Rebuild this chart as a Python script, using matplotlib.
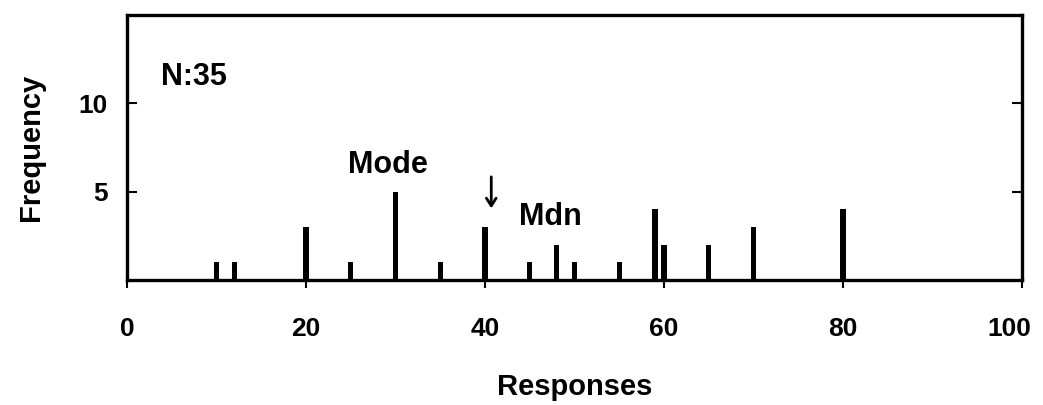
import matplotlib
matplotlib.use("Agg")
import matplotlib.pyplot as plt
from matplotlib.transforms import ScaledTranslation

responses = [10, 12, 20, 25, 30, 35, 40, 45, 48, 50, 55, 59, 60, 65, 70, 80]
frequency = [1, 1, 3, 1, 5, 1, 3, 1, 2, 1, 1, 4, 2, 2, 3, 4]
x_ticks = [0, 20, 40, 60, 80, 100]
y_ticks = [5, 10]

plt.rcParams['font.family'] = ['Liberation Sans', 'DejaVu Sans']
plt.rcParams['font.weight'] = 'bold'

fig = plt.figure(figsize=(10.43, 4.05), dpi=100)
ax = fig.add_axes([0.1218, 0.3086, 0.858, 0.654])

ax.bar(responses, frequency, width=0.6, color='black', zorder=3)

ax.set_xlim(0, 100)
ax.set_ylim(0, 15)
ax.set_xticks(x_ticks)
ax.set_yticks(y_ticks)
ax.tick_params(axis='x', direction='out', length=6, width=1.5, pad=20.5, labelsize=19)
ax.tick_params(axis='y', direction='in', length=7, width=1.5, pad=14, labelsize=19,
               left=True, right=True)
for lbl in ax.get_xticklabels() + ax.get_yticklabels():
    lbl.set_fontweight('bold')
last = ax.get_xticklabels()[-1]
last.set_transform(last.get_transform() + ScaledTranslation(-0.13, 0, fig.dpi_scale_trans))
for s in ax.spines.values():
    s.set_linewidth(2.4)

ax.set_xlabel('Responses', fontsize=21, fontweight='bold', labelpad=23)
ax.set_ylabel('Frequency', fontsize=21, fontweight='bold', labelpad=24)

ax.text(3.8, 11.5, 'N:35', fontsize=22, fontweight='bold', va='center', ha='left')
ax.text(29.2, 6.5, 'Mode', fontsize=22, fontweight='bold', va='center', ha='center')
ax.text(47.3, 3.55, 'Mdn', fontsize=22, fontweight='bold', va='center', ha='center')
ax.annotate('', xy=(40.7, 3.9), xytext=(40.7, 6.0),
            arrowprops=dict(arrowstyle='->,head_length=0.55,head_width=0.35', lw=2, color='black'))

fig.savefig('out.png', dpi=100)
